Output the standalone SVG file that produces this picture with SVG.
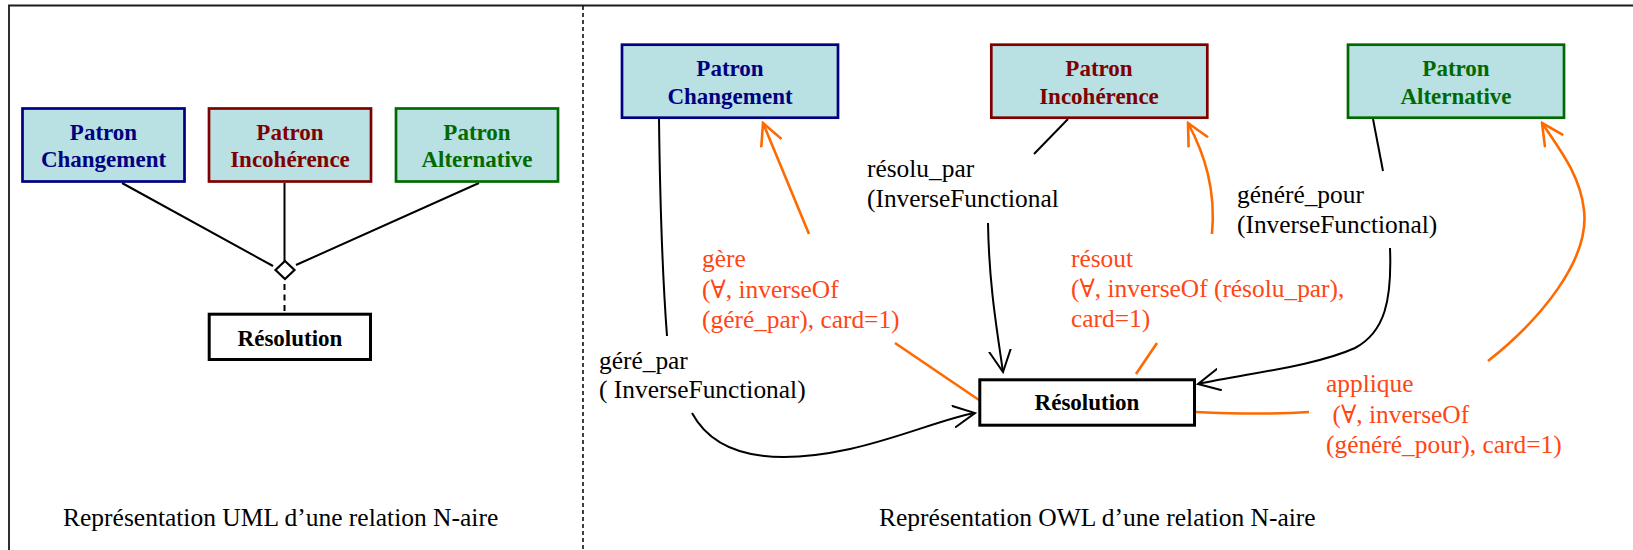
<svg xmlns="http://www.w3.org/2000/svg" width="1633" height="550" viewBox="0 0 1633 550">
<style>
.box{fill:#b9e0e3;stroke-width:2.7}
.res{fill:#fff;stroke:#000;stroke-width:3}
.bt{font-family:"Liberation Serif","Times New Roman","DejaVu Serif",serif;font-weight:bold;font-size:23px;text-anchor:middle}
.lbl{font-family:"Liberation Serif","Times New Roman","DejaVu Serif",serif;font-size:25.4px;fill:#000}
.or{fill:#ff4614}
.blue{stroke:#000080;fill:#000080}
.red{stroke:#800000;fill:#800000}
.green{stroke:#006a00;fill:#006a00}
.conn{fill:none;stroke:#000;stroke-width:2}
.oconn{fill:none;stroke:#ff6a00;stroke-width:2.6}
</style>
<defs>
<marker id="ab" markerUnits="userSpaceOnUse" viewBox="0 0 24 24" refX="22" refY="12" markerWidth="24" markerHeight="24" orient="auto">
<path d="M0,1 L22,12 L0,23" fill="none" stroke="#000" stroke-width="2"/>
</marker>
<marker id="ao" markerUnits="userSpaceOnUse" viewBox="0 0 24 24" refX="22" refY="12" markerWidth="24" markerHeight="24" orient="auto">
<path d="M0,1 L22,12 L0,23" fill="none" stroke="#ff6a00" stroke-width="2.6"/>
</marker>
</defs>
<rect width="1633" height="550" fill="#fff"/>
<g id="frame">
<path d="M9,551 V5.5 H1634" fill="none" stroke="#1a1a1a" stroke-width="1.8"/>
<path d="M583,6 V550" fill="none" stroke="#000" stroke-width="1.5" stroke-dasharray="4,3"/>
</g>

<g id="connectors">
<path class="conn" d="M122,183 L273,266"/>
<path class="conn" d="M284.5,183 L284.5,262"/>
<path class="conn" d="M479,183 L296,265"/>
<path class="conn" d="M284.5,284 L284.5,313" stroke-width="2.4" stroke-dasharray="6,4.5"/>
<polygon points="285,261 294.5,270 285,279 275.5,270" fill="#fff" stroke="#000" stroke-width="2.2"/>

<path class="conn" d="M659,119 C660,200 662,270 667,336"/>
<path class="conn" d="M692,413 C720,465 790,462 850,449 C900,438 945,418 975,413" marker-end="url(#ab)"/>
<path class="conn" d="M1068,119 L1034,154"/>
<path class="conn" d="M988,223 C989,285 997,330 1003,372" marker-end="url(#ab)"/>
<path class="conn" d="M1373,119 L1383,171"/>
<path class="conn" d="M1390,248 C1392,300 1385,332 1355,348 C1315,366 1250,373 1198,384" marker-end="url(#ab)"/>

<path class="oconn" d="M809,234 L763,123" marker-end="url(#ao)"/>
<path class="oconn" d="M895,343 L979,400"/>
<path class="oconn" d="M1212,234 C1216,190 1205,155 1188,123" marker-end="url(#ao)"/>
<path class="oconn" d="M1157,343 L1136,374"/>
<path class="oconn" d="M1196,412 C1240,414 1280,414 1309,412"/>
<path class="oconn" d="M1488,361 C1540,320 1590,260 1584,210 C1580,175 1560,150 1542,123" marker-end="url(#ao)"/>
</g>

<g id="uml-changement">
<rect class="box blue" x="22.5" y="108.5" width="162" height="73" style="fill:#b9e0e3"/>
<text class="bt" fill="#000080" x="103.5" y="140">Patron</text>
<text class="bt" fill="#000080" x="103.5" y="167">Changement</text>
</g>
<g id="uml-incoherence">
<rect class="box red" x="209" y="108.5" width="162" height="73" style="fill:#b9e0e3"/>
<text class="bt" fill="#800000" x="290" y="140">Patron</text>
<text class="bt" fill="#800000" x="290" y="167">Incohérence</text>
</g>
<g id="uml-alternative">
<rect class="box green" x="396" y="108.5" width="162" height="73" style="fill:#b9e0e3"/>
<text class="bt" fill="#006a00" x="477" y="140">Patron</text>
<text class="bt" fill="#006a00" x="477" y="167">Alternative</text>
</g>
<g id="uml-resolution">
<rect class="res" x="209.2" y="314.2" width="161.3" height="45.3"/>
<text class="bt" x="290" y="346">Résolution</text>
</g>
<g id="uml-caption">
<text class="lbl" x="63" y="526" style="font-size:25.5px">Représentation UML d’une relation N-aire</text>
</g>

<g id="owl-changement">
<rect class="box blue" x="622" y="44.7" width="216" height="73" style="fill:#b9e0e3"/>
<text class="bt" fill="#000080" x="730" y="76">Patron</text>
<text class="bt" fill="#000080" x="730" y="104">Changement</text>
</g>
<g id="owl-incoherence">
<rect class="box red" x="991.3" y="44.7" width="216" height="73" style="fill:#b9e0e3"/>
<text class="bt" fill="#800000" x="1099" y="76">Patron</text>
<text class="bt" fill="#800000" x="1099" y="104">Incohérence</text>
</g>
<g id="owl-alternative">
<rect class="box green" x="1348" y="44.7" width="216" height="73" style="fill:#b9e0e3"/>
<text class="bt" fill="#006a00" x="1456" y="76">Patron</text>
<text class="bt" fill="#006a00" x="1456" y="104">Alternative</text>
</g>
<g id="owl-resolution">
<rect class="res" x="979.8" y="379.8" width="214.7" height="45.4"/>
<text class="bt" x="1087" y="410">Résolution</text>
</g>

<g id="labels">
<text class="lbl" x="867" y="177">résolu_par</text>
<text class="lbl" x="867" y="207">(InverseFunctional</text>
<text class="lbl or" x="702" y="267">gère</text>
<text class="lbl or" x="702" y="298">(∀, inverseOf</text>
<text class="lbl or" x="702" y="328">(géré_par), card=1)</text>
<text class="lbl" x="599" y="369">géré_par</text>
<text class="lbl" x="599" y="398">( InverseFunctional)</text>
<text class="lbl or" x="1071" y="267">résout</text>
<text class="lbl or" x="1071" y="297">(∀, inverseOf (résolu_par),</text>
<text class="lbl or" x="1071" y="327">card=1)</text>
<text class="lbl" x="1237" y="203">généré_pour</text>
<text class="lbl" x="1237" y="233">(InverseFunctional)</text>
<text class="lbl or" x="1326" y="392">applique</text>
<text class="lbl or" x="1332.5" y="423">(∀, inverseOf</text>
<text class="lbl or" x="1326" y="453">(généré_pour), card=1)</text>
</g>
<g id="owl-caption">
<text class="lbl" x="879" y="526" style="font-size:25.5px">Représentation OWL d’une relation N-aire</text>
</g>
</svg>
